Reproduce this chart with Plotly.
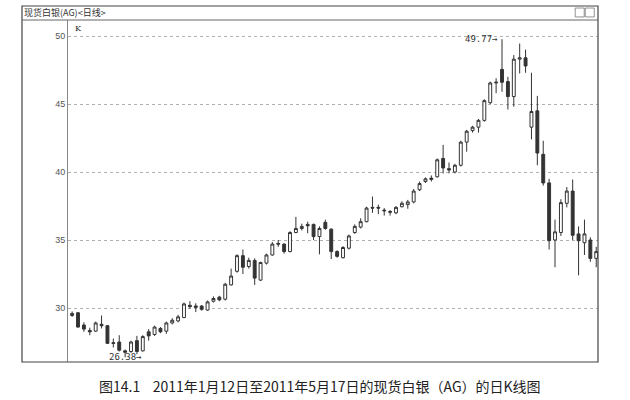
import plotly.graph_objects as go

# 现货白银 (AG) 日K线, 2011-01-12 ~ 2011-05-17
day = list(range(1, 91))
open_ = [29.45, 29.65, 28.75, 28.35, 28.3, 28.8, 28.7, 27.45, 27.5, 26.85,
         26.8, 27.6, 26.85, 28.25, 28.05, 28.5, 28.3, 28.9, 29.05, 29.3,
         30.2, 30.15, 30.15, 29.85, 30.5, 30.8, 30.65, 31.7, 32.7, 33.85,
         33.05, 33.5, 32.05, 33.3, 33.9, 34.75, 34.7, 34.15, 35.55, 35.85,
         36.15, 36.15, 35.25, 36.3, 35.8, 34.15, 33.7, 34.4, 35.55, 35.95,
         36.35, 37.4, 37.4, 37.2, 37.1, 37.0, 37.45, 37.6, 37.8, 38.7,
         39.3, 39.45, 39.65, 41.0, 40.25, 40.0, 40.5, 42.2, 43.05, 43.3,
         43.8, 45.1, 46.55, 47.55, 46.65, 45.55, 48.3, 48.4, 43.3, 44.5,
         41.3, 39.2, 35.0, 35.55, 37.7, 38.6, 35.45, 34.8, 35.0, 33.65]
close = [29.6, 28.6, 28.45, 28.25, 28.9, 28.7, 27.4, 27.4, 26.9, 26.75,
         27.5, 26.8, 27.9, 27.95, 28.6, 28.25, 28.9, 29.1, 29.35, 30.3,
         30.1, 30.05, 29.9, 30.45, 30.7, 30.6, 31.75, 32.35, 33.85, 33.0,
         33.5, 32.2, 33.35, 33.9, 34.7, 34.7, 34.15, 35.55, 35.85, 36.0,
         36.05, 35.25, 35.85, 35.85, 34.15, 33.8, 34.45, 35.3, 36.0, 36.35,
         37.35, 37.35, 37.35, 37.15, 37.05, 37.4, 37.7, 37.8, 38.6, 39.15,
         39.5, 39.55, 40.9, 40.3, 40.15, 40.5, 42.2, 43.0, 43.3, 43.8,
         45.25, 46.55, 46.6, 46.6, 45.55, 48.3, 48.4, 47.8, 44.45, 41.4,
         39.2, 34.95, 35.6, 37.75, 38.6, 35.35, 34.95, 35.45, 33.65, 34.15]
high = [29.75, 29.7, 28.95, 28.55, 29.0, 29.45, 28.75, 27.75, 28.0, 26.95,
        27.6, 27.95, 28.0, 28.45, 28.7, 28.6, 29.0, 29.25, 29.5, 30.4,
        30.5, 30.35, 30.2, 30.55, 30.85, 30.9, 31.85, 32.9, 33.95, 34.3,
        33.7, 33.65, 33.4, 34.0, 34.85, 35.0, 34.75, 35.65, 36.7, 36.2,
        36.35, 36.2, 36.0, 36.5, 35.85, 34.25, 34.55, 35.4, 36.15, 36.6,
        37.45, 38.2, 37.6, 37.35, 37.2, 37.5, 37.85, 37.95, 38.75, 39.3,
        39.6, 39.75, 41.0, 42.0, 40.7, 40.6, 42.3, 43.1, 43.4, 43.9,
        45.35, 46.65, 46.9, 49.77, 47.0, 48.6, 49.45, 49.0, 47.3, 45.6,
        42.3, 39.5, 36.5, 38.0, 38.9, 39.45, 36.0, 36.5, 35.2, 34.5]
low = [29.35, 28.55, 28.25, 28.0, 28.25, 28.5, 27.35, 27.1, 26.8, 26.38,
       26.7, 26.6, 26.8, 27.6, 27.95, 28.15, 28.1, 28.8, 28.95, 29.25,
       29.95, 29.7, 29.8, 29.8, 30.4, 30.5, 30.55, 31.65, 32.6, 32.5,
       32.9, 31.7, 32.0, 33.2, 33.85, 34.5, 34.0, 34.1, 35.5, 35.7,
       35.5, 35.0, 33.95, 35.75, 33.6, 33.7, 33.65, 34.3, 35.45, 35.85,
       36.3, 37.0, 36.9, 36.8, 36.8, 36.9, 37.4, 37.3, 37.7, 38.6,
       39.2, 39.3, 39.6, 39.9, 39.9, 39.9, 40.4, 41.5, 42.9, 42.9,
       43.7, 45.0, 45.8, 45.9, 44.6, 44.8, 47.25, 47.3, 42.4, 40.5,
       39.0, 34.3, 33.0, 35.3, 37.4, 35.0, 32.4, 33.9, 33.4, 33.0]
y_ticks = [30, 35, 40, 45, 50]

ink = "#333333"

fig = go.Figure(go.Candlestick(
    x=day, open=open_, high=high, low=low, close=close,
    increasing=dict(line=dict(color=ink, width=1), fillcolor="white"),
    decreasing=dict(line=dict(color=ink, width=1), fillcolor=ink),
    whiskerwidth=0, showlegend=False, hoverinfo="skip",
))

# high / low markers
fig.add_annotation(x=73.6, y=49.77, text="49.77→", showarrow=False, xanchor="right",
                   yanchor="middle", font=dict(family="DejaVu Sans Mono", size=9, color=ink))
fig.add_annotation(x=13.2, y=26.38, text="26.38→", showarrow=False, xanchor="right",
                   yanchor="middle", font=dict(family="DejaVu Sans Mono", size=9, color=ink))
fig.add_annotation(x=0.01, y=0.995, xref="paper", yref="paper", text="K", showarrow=False,
                   xanchor="left", yanchor="top", font=dict(family="DejaVu Serif", size=8, color=ink))

# window frame and title bar
fig.add_shape(type="rect", xref="paper", yref="paper", x0=-0.0868, x1=1.0, y0=0, y1=1.041,
              line=dict(color="#444444", width=1.2))
fig.add_shape(type="line", xref="paper", yref="paper", x0=-0.0868, x1=1.0, y0=1.0, y1=1.0,
              line=dict(color="#666666", width=1))
for x0 in (0.957, 0.976):
    fig.add_shape(type="rect", xref="paper", yref="paper", x0=x0, x1=x0 + 0.017,
                  y0=1.009, y1=1.035, line=dict(color="#777777", width=0.8))
fig.add_annotation(x=-0.0868, y=1.021, xref="paper", yref="paper", text="现货白银(AG)<日线>",
                   showarrow=False, xanchor="left", yanchor="middle",
                   font=dict(family="Noto Sans CJK SC", size=9, color=ink))

# caption
fig.add_annotation(x=0.475, y=-0.035, xref="paper", yref="paper",
                   text="图14.1    2011年1月12日至2011年5月17日的现货白银（AG）的日K线图",
                   showarrow=False, xanchor="center", yanchor="top",
                   font=dict(family="Noto Sans CJK SC", size=14, color="#222222"))

fig.update_layout(
    width=630, height=400,
    margin=dict(l=68, r=32, t=20, b=38),
    paper_bgcolor="white", plot_bgcolor="white",
    xaxis=dict(range=[0.3, 90.3], showticklabels=False, showgrid=False, zeroline=False,
               rangeslider=dict(visible=False), ticks=""),
    yaxis=dict(range=[26.03, 51.18], tickvals=y_ticks, showgrid=True, gridcolor="#b0b0b0",
               griddash="dot", gridwidth=1, zeroline=False, showline=True, linecolor="#888888",
               linewidth=1, ticks="", tickfont=dict(family="Liberation Sans", size=9, color="#555555")),
)

fig.write_html("out.html", config={"displayModeBar": False},
               post_script="document.body.style.margin='0';")
